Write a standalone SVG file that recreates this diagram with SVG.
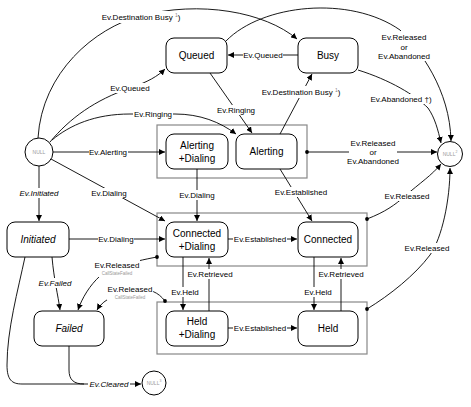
<svg xmlns="http://www.w3.org/2000/svg" width="471" height="407" viewBox="0 0 471 407">
<style>
.st{fill:#fff;stroke:#000;stroke-width:1}
.grp{fill:none;stroke:#888;stroke-width:1.2}
.nl{fill:#fff;stroke:#000;stroke-width:1}
.sn{font-family:"Liberation Sans",Arial,sans-serif;font-size:10px;fill:#000;text-anchor:middle;dominant-baseline:central}
.it{font-style:italic}
.nt{font-family:"Liberation Sans",Arial,sans-serif;font-size:5px;fill:#999;text-anchor:middle;dominant-baseline:central}
.c{fill:none;stroke:#000;stroke-width:0.9}
.a{marker-end:url(#arr)}
.d{marker-start:url(#dot)}
.lb{font-family:"Liberation Sans",Arial,sans-serif;font-size:8px;fill:#000;text-anchor:middle;dominant-baseline:central}
.sm{font-family:"Liberation Sans",Arial,sans-serif;font-size:4.5px;fill:#999;text-anchor:middle;dominant-baseline:central}
.bg{fill:#fff;stroke:none}
</style>
<defs>
<marker id="arr" markerUnits="userSpaceOnUse" markerWidth="7" markerHeight="6" refX="6" refY="3" orient="auto">
<path d="M0,0 L6,3 L0,6 z" fill="#000"/>
</marker>
<marker id="dot" markerUnits="userSpaceOnUse" markerWidth="5" markerHeight="5" refX="2.5" refY="2.5">
<circle cx="2.5" cy="2.5" r="1.9" fill="#000"/>
</marker>
</defs>
<rect width="471" height="407" fill="#fff"/>

<g id="groups">
<rect id="grp-alerting" class="grp" x="157" y="125" width="150" height="53"/>
<rect id="grp-connected" class="grp" x="157" y="213" width="210" height="53"/>
<rect id="grp-held" class="grp" x="157" y="302" width="210" height="52"/>
</g>

<g id="connectors">
<path class="c a" d="M39,166 L39,221"/>
<path class="c a" d="M53,152 L165,152"/>
<path class="c a" d="M51,159 L165,221"/>
<path class="c a" d="M50,142 C70,118 95,100 130,88 C148,82 158,76 165,69"/>
<path class="c a" d="M52,140 C70,125 95,114 130,114 L175,114 C200,114 220,122 236,134"/>
<path class="c a" d="M38,138 C42,72 95,28 140,16 C200,0 265,12 297,39"/>
<path class="c a" d="M226,41 C262,4 350,-5 400,30 C420,50 450,90 451,141"/>
<path class="c a" d="M298,55 L228,55"/>
<path class="c a" d="M210,73 L252,133"/>
<path class="c a" d="M280,134 L312,74"/>
<path class="c a" d="M358,70 C390,80 415,95 428,108 C435,118 438,130 441,143"/>
<path class="c a d" d="M307,152 L437,152"/>
<path class="c a" d="M280,169 L312,221"/>
<path class="c a" d="M197,169 L197,221"/>
<path class="c a" d="M69,239 L165,239"/>
<path class="c a" d="M228,239 L297,239"/>
<path class="c a d" d="M367,219 C385,212 395,205 405,196 C420,183 432,175 441,164"/>
<path class="c a d" d="M367,309 C390,295 415,275 430,255 C442,238 450,200 450,168"/>
<path class="c a" d="M183,257 L183,310"/>
<path class="c a" d="M209,311 L209,258"/>
<path class="c a" d="M314,257 L314,310"/>
<path class="c a" d="M341,311 L341,258"/>
<path class="c a" d="M228,328 L297,328"/>
<path class="c a" d="M52,257 C54,280 58,295 60,310"/>
<path class="c a" d="M25,257 C18,290 7,330 7,365 C7,380 12,384 22,384 L141,384"/>
<path class="c" d="M69,346 L69,370 C69,380 74,384 84,384"/>
<path class="c a d" d="M157,257 C130,262 110,268 100,276 C90,285 82,298 78,310"/>
<path class="c a d" d="M165,301 C158,292 150,289 140,290 C120,292 104,298 97,310"/>

<rect class="bg" x="19" y="188" width="40" height="10"/>
<text class="lb it" x="39" y="193">Ev.Initiated</text>
<rect class="bg" x="89" y="147" width="39" height="10"/>
<text class="lb" x="108" y="152">Ev.Alerting</text>
<rect class="bg" x="91" y="188" width="36" height="10"/>
<text class="lb" x="109" y="193">Ev.Dialing</text>
<rect class="bg" x="111" y="83" width="38" height="10"/>
<text class="lb" x="130" y="88">Ev.Queued</text>
<rect class="bg" x="133" y="109" width="40" height="10"/>
<text class="lb" x="153" y="114">Ev.Ringing</text>
<rect class="bg" x="100" y="11" width="84" height="12"/>
<text class="lb" x="141" y="17">Ev.Destination Busy <tspan font-size="5" fill="#888" dy="-2.5">1</tspan><tspan dy="2.5">)</tspan></text>
<rect class="bg" x="382" y="31" width="44" height="30"/>
<text class="lb" x="404" y="37">Ev.Released</text>
<text class="lb" x="404" y="47">or</text>
<text class="lb" x="404" y="56">Ev.Abandoned</text>
<rect class="bg" x="243" y="50" width="40" height="10"/>
<text class="lb" x="263" y="55">Ev.Queued</text>
<rect class="bg" x="216" y="105" width="40" height="10"/>
<text class="lb" x="236" y="110">Ev.Ringing</text>
<rect class="bg" x="260" y="86" width="84" height="12"/>
<text class="lb" x="301" y="92">Ev.Destination Busy <tspan font-size="5" fill="#888" dy="-2.5">1</tspan><tspan dy="2.5">)</tspan></text>
<rect class="bg" x="371" y="94" width="60" height="10"/>
<text class="lb" x="401" y="99">Ev.Abandoned †)</text>
<rect class="bg" x="349" y="138" width="48" height="28"/>
<text class="lb" x="373" y="143">Ev.Released</text>
<text class="lb" x="373" y="152">or</text>
<text class="lb" x="373" y="161">Ev.Abandoned</text>
<rect class="bg" x="279" y="187" width="44" height="10"/>
<text class="lb" x="301" y="192">Ev.Established</text>
<rect class="bg" x="179" y="190" width="36" height="10"/>
<text class="lb" x="197" y="195">Ev.Dialing</text>
<rect class="bg" x="98" y="234" width="36" height="10"/>
<text class="lb" x="116" y="239">Ev.Dialing</text>
<rect class="bg" x="233" y="234" width="54" height="10"/>
<text class="lb" x="260" y="239">Ev.Established</text>
<rect class="bg" x="385" y="191" width="45" height="10"/>
<text class="lb" x="407" y="196">Ev.Released</text>
<rect class="bg" x="404" y="243" width="46" height="10"/>
<text class="lb" x="427" y="248">Ev.Released</text>
<rect class="bg" x="170" y="287" width="30" height="10"/>
<text class="lb" x="185" y="292">Ev.Held</text>
<rect class="bg" x="188" y="269" width="44" height="10"/>
<text class="lb" x="210" y="274">Ev.Retrieved</text>
<rect class="bg" x="303" y="287" width="30" height="10"/>
<text class="lb" x="318" y="292">Ev.Held</text>
<rect class="bg" x="319" y="269" width="45" height="10"/>
<text class="lb" x="341" y="274">Ev.Retrieved</text>
<rect class="bg" x="233" y="323" width="54" height="10"/>
<text class="lb" x="260" y="328">Ev.Established</text>
<rect class="bg" x="36" y="278" width="38" height="10"/>
<text class="lb it" x="55" y="283">Ev.Failed</text>
<rect class="bg" x="88" y="379" width="42" height="10"/>
<text class="lb it" x="109" y="384">Ev.Cleared</text>
<rect class="bg" x="95" y="259" width="45" height="18"/>
<text class="lb" x="117" y="265">Ev.Released</text>
<text class="sm" x="117" y="273">CallStateFailed</text>
<rect class="bg" x="107" y="283" width="46" height="17"/>
<text class="lb" x="130" y="289">Ev.Released</text>
<text class="sm" x="130" y="297">CallStateFailed</text>
</g>

<g id="null-left"><circle class="nl" cx="39" cy="152" r="14"/><text class="nt" x="39" y="152">NULL</text></g>
<g id="null-right"><circle class="nl" cx="450" cy="154" r="12.5"/><text class="nt" x="450" y="154">NULL<tspan font-size="3.5" dy="-2">2</tspan></text></g>
<g id="null-bottom"><circle class="nl" cx="154" cy="383" r="12"/><text class="nt" x="154" y="383">NULL<tspan font-size="3.5" dy="-2">3</tspan></text></g>

<g id="queued"><rect class="st" x="166" y="38" width="61" height="35" rx="8"/><text class="sn" x="196.5" y="55.5">Queued</text></g>
<g id="busy"><rect class="st" x="298" y="38" width="60" height="35" rx="8"/><text class="sn" x="328" y="55.5">Busy</text></g>
<g id="alerting-dialing"><rect class="st" x="166" y="134" width="62" height="35" rx="8"/><text class="sn" x="197" y="145">Alerting</text><text class="sn" x="197" y="158">+Dialing</text></g>
<g id="alerting"><rect class="st" x="236" y="134" width="61" height="35" rx="8"/><text class="sn" x="266.5" y="151.5">Alerting</text></g>
<g id="initiated"><rect class="st" x="7" y="222" width="62" height="35" rx="8"/><text class="sn it" x="38" y="239.5">Initiated</text></g>
<g id="connected-dialing"><rect class="st" x="166" y="222" width="62" height="35" rx="8"/><text class="sn" x="197" y="233">Connected</text><text class="sn" x="197" y="246">+Dialing</text></g>
<g id="connected"><rect class="st" x="298" y="222" width="60" height="35" rx="8"/><text class="sn" x="328" y="239.5">Connected</text></g>
<g id="failed"><rect class="st" x="34" y="311" width="70" height="35" rx="8"/><text class="sn it" x="69" y="328.5">Failed</text></g>
<g id="held-dialing"><rect class="st" x="166" y="311" width="62" height="35" rx="8"/><text class="sn" x="197" y="321">Held</text><text class="sn" x="197" y="334">+Dialing</text></g>
<g id="held"><rect class="st" x="298" y="311" width="60" height="35" rx="8"/><text class="sn" x="328" y="328.5">Held</text></g>
</svg>
